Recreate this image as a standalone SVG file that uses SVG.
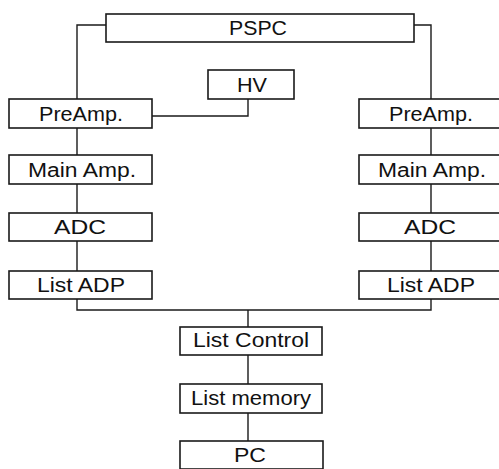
<svg xmlns="http://www.w3.org/2000/svg" width="499" height="469" viewBox="0 0 499 469">
<style>
.box{fill:#fff;stroke:#1a1a1a;stroke-width:1.6}
.lbl{font-family:"Liberation Sans",Arial,sans-serif;font-size:19.5px;fill:#111;text-anchor:middle}
.con{fill:none;stroke:#1a1a1a;stroke-width:1.4}
</style>
<rect width="499" height="469" fill="#fff"/>
<g id="connectors">
<path class="con" d="M106 25H77V99"/>
<path class="con" d="M414 25H431V99"/>
<path class="con" d="M248 99V116H152"/>
<path class="con" d="M77 128V155M77 184V213M77 241V271"/>
<path class="con" d="M431 128V155M431 184V213M431 241V271"/>
<path class="con" d="M77 299V310H431V299"/>
<path class="con" d="M248 310V327M248 355V384M248 413V441"/>
</g>
<g id="pspc"><rect class="box" x="106" y="14" width="308" height="28"/><text class="lbl" x="258" y="35" textLength="58" lengthAdjust="spacingAndGlyphs">PSPC</text></g>
<g id="hv"><rect class="box" x="208" y="70" width="86" height="29"/><text class="lbl" x="252" y="92" textLength="30" lengthAdjust="spacingAndGlyphs">HV</text></g>
<g id="preamp-l"><rect class="box" x="9" y="99" width="143" height="29"/><text class="lbl" x="81" y="121" textLength="84" lengthAdjust="spacingAndGlyphs">PreAmp.</text></g>
<g id="mainamp-l"><rect class="box" x="9" y="155" width="143" height="29"/><text class="lbl" x="82" y="177" textLength="108" lengthAdjust="spacingAndGlyphs">Main Amp.</text></g>
<g id="adc-l"><rect class="box" x="9" y="213" width="143" height="28"/><text class="lbl" x="80" y="234" textLength="52" lengthAdjust="spacingAndGlyphs">ADC</text></g>
<g id="listadp-l"><rect class="box" x="9" y="271" width="143" height="28"/><text class="lbl" x="81" y="292" textLength="88" lengthAdjust="spacingAndGlyphs">List ADP</text></g>
<g id="preamp-r"><rect class="box" x="359" y="99" width="143" height="29"/><text class="lbl" x="431" y="121" textLength="84" lengthAdjust="spacingAndGlyphs">PreAmp.</text></g>
<g id="mainamp-r"><rect class="box" x="359" y="155" width="143" height="29"/><text class="lbl" x="432" y="177" textLength="108" lengthAdjust="spacingAndGlyphs">Main Amp.</text></g>
<g id="adc-r"><rect class="box" x="359" y="213" width="143" height="28"/><text class="lbl" x="430" y="234" textLength="52" lengthAdjust="spacingAndGlyphs">ADC</text></g>
<g id="listadp-r"><rect class="box" x="359" y="271" width="143" height="28"/><text class="lbl" x="431" y="292" textLength="88" lengthAdjust="spacingAndGlyphs">List ADP</text></g>
<g id="listcontrol"><rect class="box" x="180" y="327" width="142" height="28"/><text class="lbl" x="251" y="347" textLength="116" lengthAdjust="spacingAndGlyphs">List Control</text></g>
<g id="listmemory"><rect class="box" x="180" y="384" width="142" height="29"/><text class="lbl" x="251" y="405" textLength="120" lengthAdjust="spacingAndGlyphs">List memory</text></g>
<g id="pc"><rect class="box" x="180" y="441" width="143" height="28"/><text class="lbl" x="250" y="462" textLength="32" lengthAdjust="spacingAndGlyphs">PC</text></g>
</svg>
